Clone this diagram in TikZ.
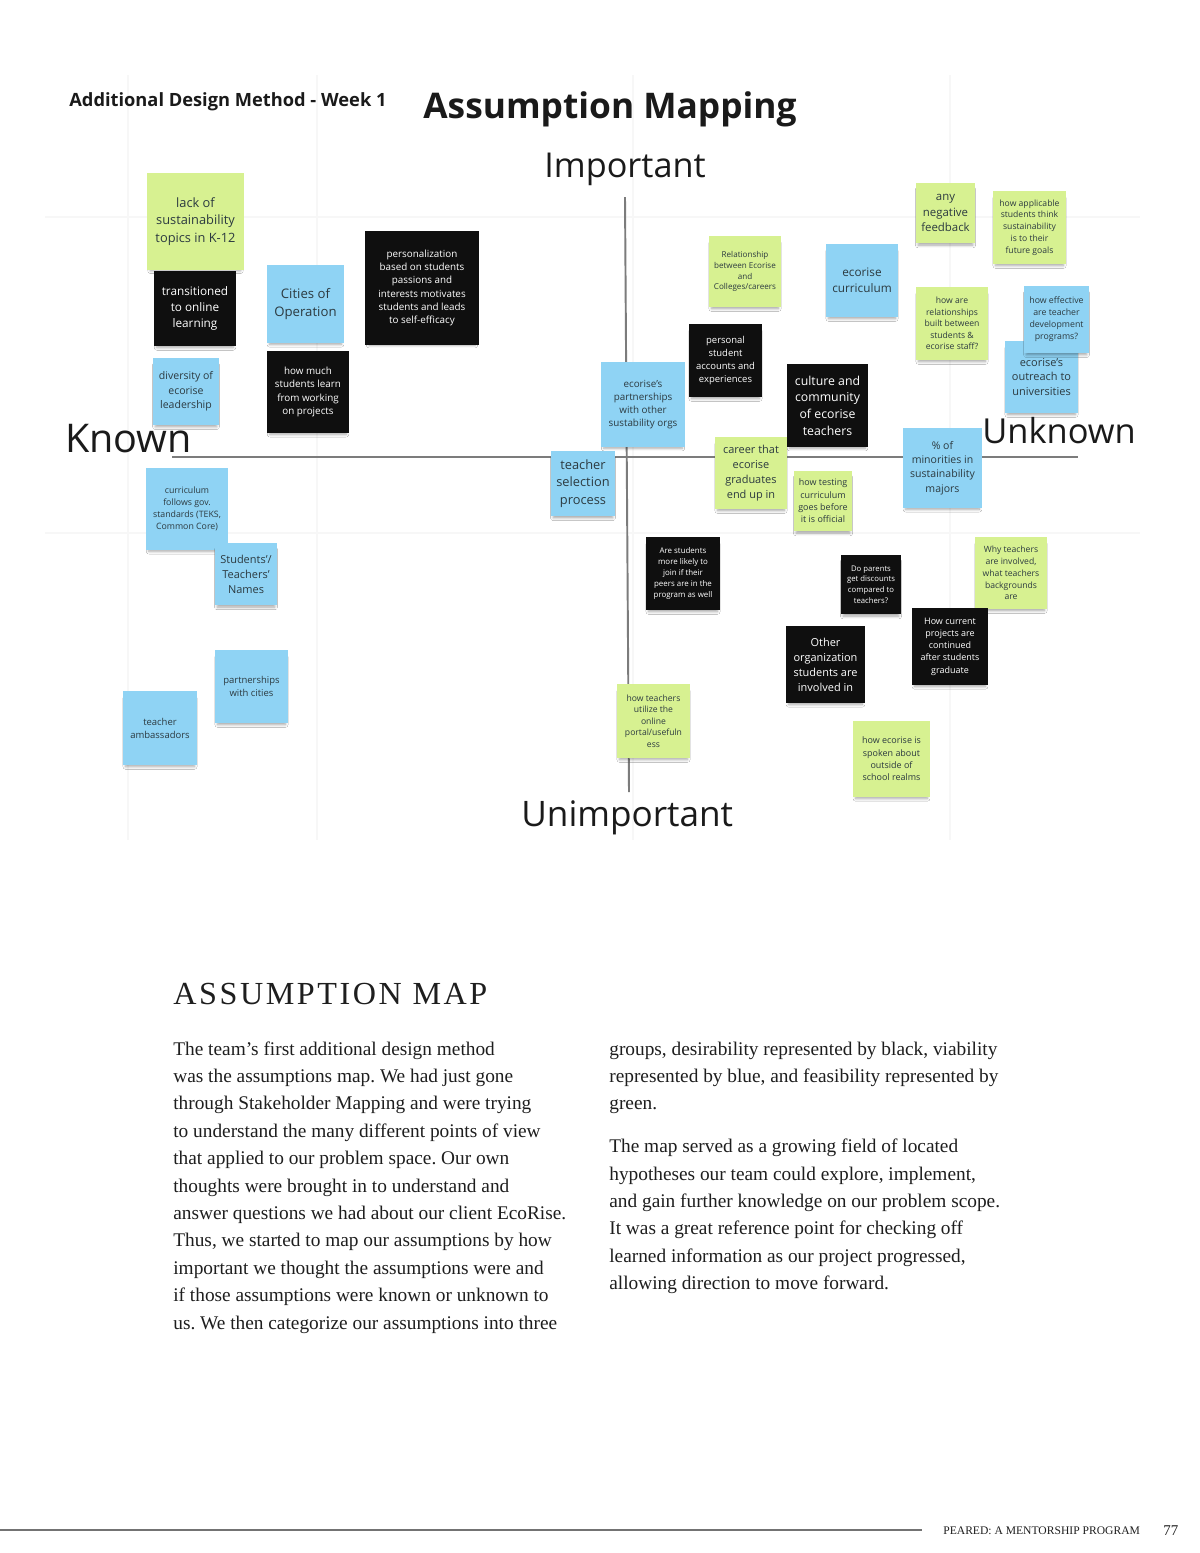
\documentclass[tikz,border=0pt]{standalone}
\usepackage{fontspec}
\setmainfont{Liberation Serif}
\setsansfont{Open Sans}
\newfontfamily\headfont[LetterSpace=8]{Liberation Serif}
\usetikzlibrary{shadows.blur}
\definecolor{notegreen}{HTML}{D7F191}
\definecolor{noteblue}{HTML}{8FD3F4}
\definecolor{noteblack}{HTML}{0F0F0F}
\definecolor{notetext}{HTML}{2C3A40}
\definecolor{axisgray}{HTML}{7C7C7C}
\definecolor{titletext}{HTML}{1A1A1A}
\definecolor{bodytext}{HTML}{1E1E1E}
\tikzset{
  stickbase/.style={inner sep=0pt, align=center,
    blur shadow={shadow xshift=0pt, shadow yshift=-2.6pt, shadow blur radius=1.6pt,
      shadow blur steps=6, shadow opacity=35, shadow scale=0.93}},
  gr/.style={stickbase, fill=notegreen, text=notetext},
  bl/.style={stickbase, fill=noteblue, text=notetext},
  bk/.style={stickbase, fill=noteblack, text=white},
  gridline/.style={draw=black!3, line width=0.6pt},
  axisline/.style={draw=axisgray, line width=1.1pt},
  maplabel/.style={inner sep=0pt, anchor=base west, text=titletext},
}
\newcommand\stickynote[8]{%
  \node[#2, minimum width={(#5-#3)*0.02cm}, minimum height={(#6-#4)*0.02cm},
    font=\sffamily#7\selectfont] (#1) at ({(#3+#5)/2},{(#4+#6)/2}) {#8};}
\begin{document}
\frenchspacing
\begin{tikzpicture}[x=0.02cm, y=-0.02cm]
\useasboundingbox[fill=white] (0,0) rectangle (1200,1553);
% faint board grid
\foreach \gx in {128,317,633,950} \draw[gridline] (\gx,75) -- (\gx,840);
\foreach \gy in {217,533} \draw[gridline] (45,\gy) -- (1140,\gy);
% headings
\node[maplabel, font=\sffamily\bfseries\fontsize{10.4}{12}\selectfont] (subtitle) at (69,106) {Additional Design Method - Week 1};
\node[maplabel, font=\sffamily\bfseries\fontsize{20.1}{24}\selectfont] (title) at (423,118) {Assumption Mapping};
% axes
\coordinate (vtop) at (625,197);
\coordinate (vbot) at (629,792);
\coordinate (hleft) at (172,457);
\coordinate (hright) at (1078,457);
\draw[axisline] (vtop) -- (vbot);
\draw[axisline] (hleft) -- (hright);
% sticky notes - left
\stickynote{n2}{bk}{154}{271}{236}{346}{\fontsize{6.7}{9.1}}{transitioned\\to online\\learning}
\stickynote{n1}{gr}{147}{173}{244}{270}{\fontsize{7.3}{9.9}}{lack of\\sustainability\\topics in K-12}
\stickynote{n3}{bl}{267}{265}{344}{343}{\fontsize{7.5}{10.2}}{Cities of\\Operation}
\stickynote{n4}{bk}{365}{231}{479}{345}{\fontsize{5.6}{7.6}}{personalization\\based on students\\passions and\\interests motivates\\students and leads\\to self-efficacy}
\stickynote{n5}{bl}{153}{358}{219}{425}{\fontsize{6}{8.2}}{diversity of\\ecorise\\leadership}
\stickynote{n6}{bk}{267}{351}{349}{433}{\fontsize{5.6}{7.5}}{how much\\students learn\\from working\\on projects}
\stickynote{n7}{bl}{146}{468}{228}{550}{\fontsize{5}{6.8}}{curriculum\\follows gov.\\standards (TEKS,\\Common Core)}
\stickynote{n8}{bl}{215}{543}{277}{605}{\fontsize{6.25}{8.5}}{Students'/\\Teachers'\\Names}
\stickynote{n9}{bl}{215}{650}{288}{723}{\fontsize{5.4}{7.4}}{partnerships\\with cities}
\stickynote{n10}{bl}{123}{691}{197}{765}{\fontsize{5.4}{7.4}}{teacher\\ambassadors}
% sticky notes - centre
\stickynote{n11}{gr}{709}{236}{781}{307}{\fontsize{4.6}{6.2}}{Relationship\\between Ecorise\\and\\Colleges/careers}
\stickynote{n12}{bl}{826}{244}{898}{317}{\fontsize{6.7}{9.1}}{ecorise\\curriculum}
\stickynote{n13}{bk}{689}{324}{762}{397}{\fontsize{5.4}{7.4}}{personal\\student\\accounts and\\experiences}
\stickynote{n14}{bl}{601}{362}{685}{447}{\fontsize{5.6}{7.5}}{ecorise's\\partnerships\\with other\\sustability orgs}
\stickynote{n15}{bk}{787}{364}{868}{447}{\fontsize{7}{9.5}}{culture and\\community\\of ecorise\\teachers}
\stickynote{n16}{gr}{715}{437}{787}{509}{\fontsize{6.25}{8.5}}{career that\\ecorise\\graduates\\end up in}
\stickynote{n17}{bl}{551}{451}{615}{516}{\fontsize{7.3}{9.9}}{teacher\\selection\\process}
\stickynote{n18}{gr}{794}{471}{852}{531}{\fontsize{5.1}{7}}{how testing\\curriculum\\goes before\\it is official}
\stickynote{n19}{bk}{646}{537}{720}{610}{\fontsize{4.5}{6.2}}{Are students\\more likely to\\join if their\\peers are in the\\program as well}
\stickynote{n20}{bk}{841}{555}{901}{614}{\fontsize{4.4}{6}}{Do parents\\get discounts\\compared to\\teachers?}
\stickynote{n21}{bk}{786}{626}{865}{703}{\fontsize{6.25}{8.5}}{Other\\organization\\students are\\involved in}
\stickynote{n22}{gr}{617}{684}{690}{758}{\fontsize{4.9}{6.6}}{how teachers\\utilize the\\online\\portal/usefuln\\ess}
\stickynote{n23}{gr}{853}{721}{930}{797}{\fontsize{5.1}{7}}{how ecorise is\\spoken about\\outside of\\school realms}
% sticky notes - right
\stickynote{n24}{gr}{916}{183}{975}{243}{\fontsize{6.5}{8.8}}{any\\negative\\feedback}
\stickynote{n25}{gr}{993}{191}{1066}{264}{\fontsize{4.9}{6.7}}{how applicable\\students think\\sustainability\\is to their\\future goals}
\stickynote{n26}{gr}{916}{287}{988}{360}{\fontsize{4.9}{6.6}}{how are\\relationships\\built between\\students \&\\ecorise staff?}
\stickynote{n27}{bl}{1005}{341}{1078}{413}{\fontsize{6.25}{8.5}}{ecorise's\\outreach to\\universities}
\stickynote{n28}{bl}{1024}{286}{1089}{353}{\fontsize{5}{6.8}}{how effective\\are teacher\\development\\programs?}
\stickynote{n29}{bl}{903}{428}{982}{508}{\fontsize{6}{8.1}}{\% of\\minorities in\\sustainability\\majors}
\stickynote{n30}{gr}{975}{537}{1047}{609}{\fontsize{4.9}{6.7}}{Why teachers\\are involved,\\what teachers\\backgrounds\\are}
\stickynote{n31}{bk}{912}{608}{988}{685}{\fontsize{5.1}{7}}{How current\\projects are\\continued\\after students\\graduate}
% axis labels
\node[maplabel, font=\sffamily\fontsize{19.5}{23}\selectfont] (important) at (544,177) {Important};
\node[maplabel, font=\sffamily\fontsize{20}{24}\selectfont] (unimportant) at (521,826) {Unimportant};
\node[maplabel, font=\sffamily\fontsize{22.5}{26}\selectfont] (known) at (65,452) {Known};
\node[maplabel, font=\sffamily\fontsize{19.6}{23}\selectfont] (unknown) at (982,443) {Unknown};
% article text
\node[inner sep=0pt, anchor=base west, text=bodytext, font=\headfont\fontsize{18.3}{22}\selectfont] (heading) at (173,1004) {ASSUMPTION MAP};
\node[inner sep=0pt, anchor=base west, text=bodytext] (colleft) at (173,1055) {\parbox[t]{9cm}{\fontsize{11}{15.6}\selectfont\raggedright
The team’s first additional design method\\
was the assumptions map. We had just gone\\
through Stakeholder Mapping and were trying\\
to understand the many different points of view\\
that applied to our problem space. Our own\\
thoughts were brought in to understand and\\
answer questions we had about our client EcoRise.\\
Thus, we started to map our assumptions by how\\
important we thought the assumptions were and\\
if those assumptions were known or unknown to\\
us. We then categorize our assumptions into three}};
\node[inner sep=0pt, anchor=base west, text=bodytext] (colright) at (609,1055) {\parbox[t]{9cm}{\fontsize{11}{15.6}\selectfont\raggedright
groups, desirability represented by black, viability\\
represented by blue, and feasibility represented by\\
green.\\[8.8pt]
The map served as a growing field of located\\
hypotheses our team could explore, implement,\\
and gain further knowledge on our problem scope.\\
It was a great reference point for checking off\\
learned information as our project progressed,\\
allowing direction to move forward.}};
% footer
\coordinate (fl) at (0,1530);
\coordinate (fr) at (922,1530);
\draw[draw=black!55, line width=0.7pt] (fl) -- (fr);
\node[inner sep=0pt, anchor=base west, text=bodytext, font=\fontsize{6.6}{8}\selectfont] (footer) at (943,1534) {PEARED: A MENTORSHIP PROGRAM};
\node[inner sep=0pt, anchor=base west, text=bodytext, font=\fontsize{8.5}{10}\selectfont] (pagenum) at (1163,1535) {77};
\end{tikzpicture}
\end{document}
